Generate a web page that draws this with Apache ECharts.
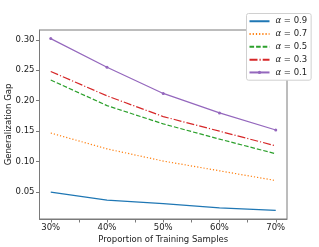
<!DOCTYPE html>
<html><head><meta charset="utf-8">
<script src="https://cdn.jsdelivr.net/npm/echarts@6/dist/echarts.min.js"></script>
<style>html,body{margin:0;padding:0;background:#fff}#c{width:319px;height:247px}</style>
</head><body><div id="c"></div>
<script>
const xValues = [30, 40, 50, 60, 70];
const alpha09 = [0.050, 0.037, 0.031, 0.024, 0.020];
const alpha07 = [0.147, 0.121, 0.101, 0.085, 0.069];
const alpha05 = [0.234, 0.192, 0.162, 0.137, 0.113];
const alpha03 = [0.248, 0.208, 0.174, 0.150, 0.126];
const alpha01 = [0.302, 0.255, 0.212, 0.180, 0.152];
const seriesNames = ['α = 0.9', 'α = 0.7', 'α = 0.5', 'α = 0.3', 'α = 0.1'];
const xTicks = [30, 35, 40, 45, 50, 55, 60, 65, 70];
const xTickLabels = [30, 40, 50, 60, 70];
const yTicks = [0.05, 0.10, 0.15, 0.20, 0.25, 0.30];

const font = 'DejaVu Sans';
const fs = 8.5;
const axisColor = '#7a7a7a';
const colors = ['#1f77b4', '#ff7f0e', '#2ca02c', '#d62728', '#9467bd'];
const dashes = ['solid', [1.2, 2], [4.6, 2], [8, 2, 1.2, 2], 'solid'];
const allVals = [alpha09, alpha07, alpha05, alpha03, alpha01];
function mk(i) {
  const withSym = i === 4;
  return {
    name: seriesNames[i], type: 'line',
    data: xValues.map((x, k) => [x, allVals[i][k]]),
    symbol: withSym ? 'circle' : 'none',
    symbolSize: 3,
    showSymbol: withSym,
    itemStyle: { color: colors[i] },
    lineStyle: { color: colors[i], width: 1.2, type: dashes[i] },
    emphasis: { disabled: true },
    animation: false
  };
}
const chart = echarts.init(document.getElementById('c'), null, { renderer: 'canvas' });
chart.setOption({
  animation: false,
  grid: { left: 39.5, right: 32, top: 30, bottom: 28, show: true, borderColor: axisColor, borderWidth: 1,
    containLabel: false, outerBoundsMode: 'none' },
  xAxis: {
    type: 'value', min: 28, max: 72,
    name: 'Proportion of Training Samples', nameLocation: 'middle', nameGap: 16, nameMoveOverlap: false,
    nameTextStyle: { fontFamily: font, fontSize: fs, color: '#222' },
    axisLine: { show: true, lineStyle: { color: axisColor } },
    axisTick: { show: true, length: 3.5, lineStyle: { color: axisColor }, customValues: xTicks },
    axisLabel: { fontFamily: font, fontSize: fs, color: '#222', margin: 4, customValues: xTickLabels, formatter: v => v + '%' },
    splitLine: { show: false }
  },
  yAxis: {
    type: 'value', min: 0.0059, max: 0.3161,
    name: 'Generalization Gap', nameLocation: 'middle', nameGap: 26, nameMoveOverlap: false,
    nameTextStyle: { fontFamily: font, fontSize: fs, color: '#222' },
    axisLine: { show: true, lineStyle: { color: axisColor } },
    axisTick: { show: true, length: 3.5, lineStyle: { color: axisColor }, customValues: yTicks },
    axisLabel: { fontFamily: font, fontSize: fs, color: '#222', margin: 5, customValues: yTicks, formatter: v => v.toFixed(2) },
    splitLine: { show: false }
  },
  legend: {
    orient: 'vertical', left: 246.5, top: 13.5,
    backgroundColor: '#fff', borderColor: '#d0d0d0', borderWidth: 1, borderRadius: 2,
    padding: [3, 4, 3, 2], itemWidth: 20, itemHeight: 4, itemGap: 3.3,
    textStyle: { fontFamily: font, fontSize: fs, lineHeight: 9.5, color: '#222', padding: [0, 0, 0, 1],
      rich: { i: { fontStyle: 'italic', fontFamily: font, fontSize: fs, lineHeight: 9.5, color: '#222' } } },
    formatter: n => '{i|α} ' + n.slice(2),
    data: seriesNames.map((n, i) => ({ name: n, itemStyle: { opacity: i === 4 ? 1 : 0 } }))
  },
  series: [0, 1, 2, 3, 4].map(mk)
});
</script></body></html>
